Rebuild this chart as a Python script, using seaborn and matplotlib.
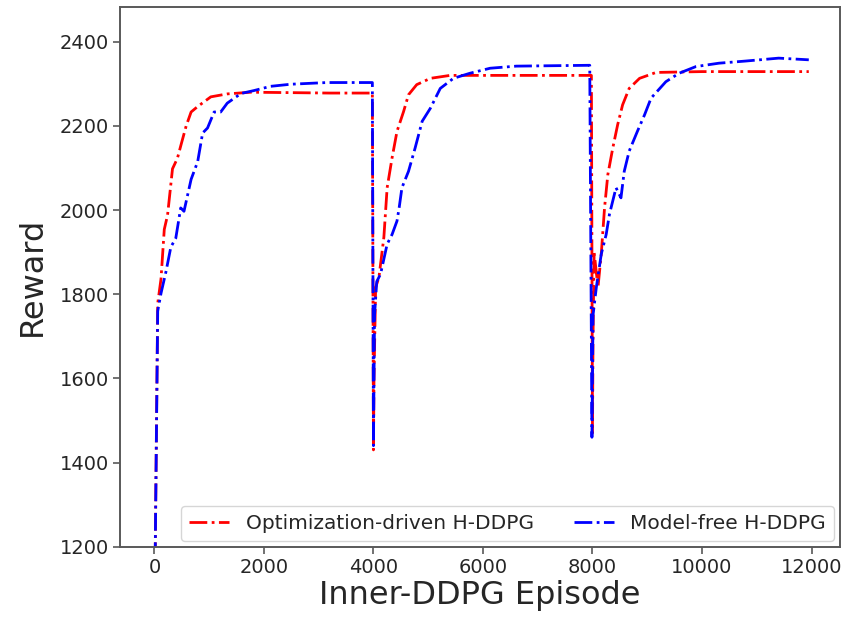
import numpy as np
import pandas as pd
import seaborn as sns
import matplotlib.pyplot as plt

# curve points (episode, reward)
opt_x = [0, 60, 120, 180, 240, 330, 420, 490, 580, 670, 790, 1030, 1330, 1760, 2500, 3200, 3980,
         4000, 4010, 4040, 4100, 4190, 4250, 4340, 4430, 4550, 4640, 4790, 5040, 5400, 6200, 7000, 7980,
         8000, 8010, 8030, 8100, 8160, 8220, 8280, 8370, 8460, 8550, 8670, 8860, 9160, 10000, 11000, 11950]
opt_y = [1000, 1778, 1836, 1954, 1988, 2098, 2123, 2157, 2200, 2233, 2246, 2269, 2276, 2280, 2279, 2278, 2278,
         1430, 1600, 1816, 1840, 1935, 2053, 2124, 2187, 2234, 2274, 2298, 2313, 2320, 2320, 2320, 2320,
         1470, 1700, 1900, 1816, 1895, 2005, 2084, 2147, 2203, 2250, 2289, 2313, 2327, 2329, 2329, 2329]

free_x = [0, 60, 120, 210, 300, 390, 480, 540, 670, 790, 880, 970, 1090, 1210, 1330, 1580, 1820, 2120, 2490, 3150, 3980,
          4000, 4020, 4060, 4130, 4250, 4340, 4430, 4470, 4520, 4640, 4760, 4890, 5040, 5220, 5460, 5760, 6130, 6610, 7950,
          7990, 8010, 8070, 8160, 8250, 8310, 8430, 8520, 8580, 8670, 8820, 8950, 9070, 9340, 9580, 9890, 10310, 10790, 11400, 11950]
free_y = [1000, 1760, 1802, 1853, 1912, 1933, 2005, 1997, 2073, 2115, 2183, 2195, 2233, 2233, 2254, 2277, 2284, 2294, 2299, 2303, 2303,
          1440, 1750, 1830, 1848, 1919, 1942, 1974, 2006, 2053, 2092, 2147, 2211, 2242, 2289, 2313, 2325, 2337, 2342, 2344,
          1460, 1750, 1816, 1895, 1942, 1990, 2053, 2029, 2092, 2140, 2187, 2226, 2266, 2305, 2325, 2341, 2349, 2354, 2361, 2357]

df_opt = pd.DataFrame({"episode": opt_x, "reward": opt_y})
df_free = pd.DataFrame({"episode": free_x, "reward": free_y})

sns.set_theme(style="ticks", rc={"axes.edgecolor": "0.35", "axes.linewidth": 1.4,
                                  "xtick.color": "0.35", "ytick.color": "0.35",
                                  "xtick.labelcolor": "0.15", "ytick.labelcolor": "0.15"})
plt.rcParams['font.family'] = ['DejaVu Sans']

fig, ax = plt.subplots(figsize=(8.46, 6.18), dpi=100)
sns.lineplot(data=df_opt, x="episode", y="reward", color="#ff0000", linestyle="-.", linewidth=2,
             estimator=None, label="Optimization-driven H-DDPG", ax=ax)
sns.lineplot(data=df_free, x="episode", y="reward", color="#0000ff", linestyle="-.", linewidth=2,
             estimator=None, label="Model-free H-DDPG", ax=ax)

ax.set_xlim(-620, 12520)
ax.set_ylim(1200, 2483)
ax.set_xticks(np.arange(0, 12001, 2000))
ax.set_yticks(np.arange(1200, 2401, 200))
ax.tick_params(labelsize=14, length=5, width=1.2)
ax.set_xlabel("Inner-DDPG Episode", fontsize=23, labelpad=2)
ax.set_ylabel("Reward", fontsize=23, labelpad=8)

ax.legend(loc="lower right", ncol=2, fontsize=14.5, frameon=True, fancybox=True,
          borderaxespad=0.3, columnspacing=2.0)

plt.subplots_adjust(left=0.1424, right=0.9929, top=0.989, bottom=0.1154)
plt.savefig("out.png", dpi=100)
